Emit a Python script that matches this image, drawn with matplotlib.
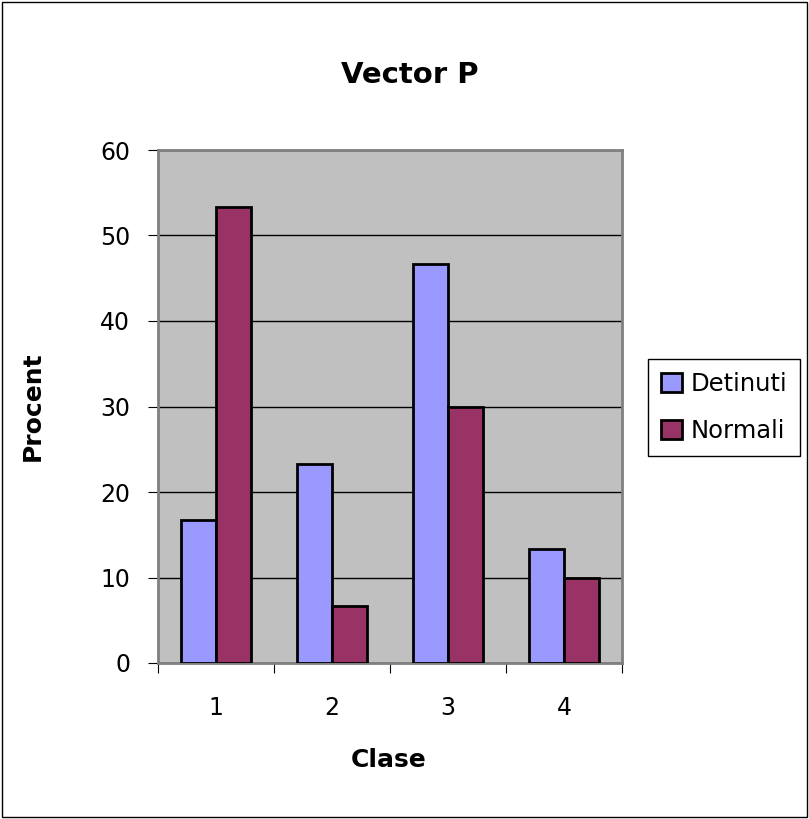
import numpy as np
import matplotlib.pyplot as plt
from matplotlib.patches import Rectangle

# data
categories = ['1', '2', '3', '4']
detinuti = [16.67, 23.33, 46.67, 13.33]
normali = [53.33, 6.67, 30.0, 10.0]
yticks = [0, 10, 20, 30, 40, 50, 60]

plt.rcParams['font.family'] = ['DejaVu Sans']

W, H = 809, 819
fig = plt.figure(figsize=(W / 100, H / 100), dpi=100)
fig.patch.set_facecolor('white')
fig.patches.append(Rectangle((0.002, 0.002), 0.996, 0.996, transform=fig.transFigure,
                             fill=False, edgecolor='black', linewidth=1))

ax = fig.add_axes([158 / W, 1 - 663 / H, 464 / W, 513 / H])
ax.set_facecolor('#C0C0C0')

x = np.arange(len(categories))
w = 0.3
ax.bar(x - w / 2, detinuti, w, color='#9999FF', edgecolor='black', linewidth=2,
       label='Detinuti', zorder=3)
ax.bar(x + w / 2, normali, w, color='#993366', edgecolor='black', linewidth=2,
       label='Normali', zorder=3)

ax.set_xlim(-0.5, 3.5)
ax.set_ylim(0, 60)
ax.set_yticks(yticks)
ax.yaxis.grid(True, color='black', linewidth=1, zorder=1)
ax.set_axisbelow(True)

# category labels sit between the boundary ticks
ax.set_xticks(np.arange(-0.5, 4.0, 1.0))
ax.set_xticklabels([])
ax.set_xticks(x, minor=True)
ax.set_xticklabels(categories, minor=True, fontsize=17)
ax.tick_params(axis='x', which='minor', length=0, pad=24)
ax.tick_params(axis='x', which='major', length=7, direction='out', color='black')
ax.tick_params(axis='y', length=7, direction='out', labelsize=17, pad=13)

for s in ax.spines.values():
    s.set_color('#808080')
    s.set_linewidth(2)

fig.text(410 / W, 1 - 75 / H, 'Vector P', fontsize=21, fontweight='bold',
         ha='center', va='center')
fig.text(33 / W, 1 - 406 / H, 'Procent', fontsize=18, fontweight='bold',
         rotation=90, ha='center', va='center')
fig.text(389 / W, 1 - 760 / H, 'Clase', fontsize=18, fontweight='bold',
         ha='center', va='center')

leg = ax.legend(loc='center left', bbox_to_anchor=(1.056, 0.498), fontsize=17.5,
                frameon=True, fancybox=False, edgecolor='black', framealpha=1,
                handlelength=0.86, handleheight=0.86, handletextpad=0.33,
                labelspacing=0.95, borderpad=0.55, borderaxespad=0)
leg.get_frame().set_linewidth(1)

plt.savefig('out.png', dpi=100)
